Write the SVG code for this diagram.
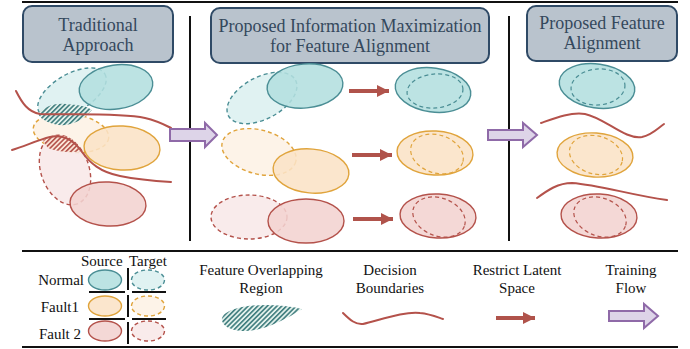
<svg xmlns="http://www.w3.org/2000/svg" width="690" height="349" viewBox="0 0 690 349">
  <defs>
    <style>
      .rule { stroke: #111; stroke-width: 2; fill: none; }
      .title-box { fill: #b9c3cd; stroke: #2f4a66; stroke-width: 2; }
      .title { font-size: 18px; fill: #34485c; text-anchor: middle; }
      .label { font-size: 15px; fill: #111; }
      .mid { text-anchor: middle; }
      .end { text-anchor: end; }
      .n-src { fill: #b3dfdf; fill-opacity: 0.88; stroke: #4b8e95; stroke-width: 1.4; }
      .n-tgt { fill: #daf0f0; fill-opacity: 0.85; stroke: #4b8e95; stroke-width: 1.4; stroke-dasharray: 4 3; }
      .f1-src { fill: #fbe2c6; fill-opacity: 0.88; stroke: #e0a43c; stroke-width: 1.4; }
      .f1-tgt { fill: #fdf1e4; fill-opacity: 0.85; stroke: #e0a43c; stroke-width: 1.4; stroke-dasharray: 4 3; }
      .f2-src { fill: #f2d3d0; fill-opacity: 0.88; stroke: #b4524b; stroke-width: 1.4; }
      .f2-tgt { fill: #f8e8e7; fill-opacity: 0.85; stroke: #b4524b; stroke-width: 1.4; stroke-dasharray: 4 3; }
      .inner-n { fill: none; stroke: #4b8e95; stroke-width: 1.2; stroke-dasharray: 4 3; }
      .inner-f1 { fill: none; stroke: #e0a43c; stroke-width: 1.2; stroke-dasharray: 4 3; }
      .inner-f2 { fill: none; stroke: #b4524b; stroke-width: 1.2; stroke-dasharray: 4 3; }
      .boundary { fill: none; stroke: #b4524b; stroke-width: 2; stroke-linecap: round; }
      .restrict { stroke: #b0534b; stroke-width: 4; fill: none; marker-end: url(#head); }
      .flow { fill: #ddd4e8; stroke: #8f6aa8; stroke-width: 2; stroke-linejoin: miter; }
    </style>
    <marker id="head" markerUnits="userSpaceOnUse" markerWidth="13" markerHeight="13" refX="12" refY="6.5" orient="auto">
      <path d="M0,0.5 L12,6.5 L0,12.5 Z" fill="#b0534b"/>
    </marker>
    <pattern id="hatch-teal" patternUnits="userSpaceOnUse" width="3.4" height="3.4" patternTransform="rotate(45)">
      <rect width="3.4" height="3.4" fill="#e3f1ec"/>
      <rect width="1.6" height="3.4" fill="#3f7d7e"/>
    </pattern>
    <pattern id="hatch-red" patternUnits="userSpaceOnUse" width="3.4" height="3.4" patternTransform="rotate(45)">
      <rect width="3.4" height="3.4" fill="#fbe6d8"/>
      <rect width="1.6" height="3.4" fill="#b4524b"/>
    </pattern>
  </defs>

  <!-- frame rules -->
  <g id="frame">
    <line class="rule" x1="22" y1="2" x2="678" y2="2"/>
    <line class="rule" x1="22" y1="251" x2="678" y2="251"/>
    <line class="rule" x1="22" y1="347" x2="678" y2="347"/>
    <line class="rule" x1="190" y1="16" x2="190" y2="241"/>
    <line class="rule" x1="509" y1="16" x2="509" y2="241"/>
  </g>

  <g font-family="Liberation Serif, DejaVu Serif, serif">
  <!-- panel titles -->
  <g id="title-traditional">
    <rect class="title-box" x="23" y="6" width="150" height="56" rx="9"/>
    <text class="title" x="98" y="31">Traditional</text>
    <text class="title" x="98" y="51">Approach</text>
  </g>
  <g id="title-infomax">
    <rect class="title-box" x="211" y="8" width="278" height="55" rx="9"/>
    <text class="title" x="350" y="32">Proposed Information Maximization</text>
    <text class="title" x="350" y="52">for Feature Alignment</text>
  </g>
  <g id="title-proposed">
    <rect class="title-box" x="527" y="6" width="150" height="55" rx="9"/>
    <text class="title" x="602" y="29">Proposed Feature</text>
    <text class="title" x="602" y="49">Alignment</text>
  </g>
  </g>

  <!-- traditional approach: overlapping source / target clusters -->
  <g id="traditional">
    <ellipse class="n-tgt" cx="72" cy="93" rx="38" ry="19" transform="rotate(-30 72 93)"/>
    <ellipse class="f1-tgt" cx="71" cy="133" rx="38" ry="19" transform="rotate(8 71 133)"/>
    <ellipse class="f2-tgt" cx="65" cy="170" rx="36" ry="24" transform="rotate(70 65 170)"/>
    <ellipse class="n-src" cx="116" cy="87" rx="37" ry="22" transform="rotate(-8 116 87)"/>
    <ellipse class="f1-src" cx="122" cy="148" rx="38" ry="22" transform="rotate(3 122 148)"/>
    <ellipse class="f2-src" cx="108" cy="204" rx="38" ry="22" transform="rotate(3 108 204)"/>
    <path d="M38,114 C44,106 56,103 66,104 C78,105 87,106 92,110 C86,117 78,123 66,125 C54,126 42,121 38,114 Z" fill="url(#hatch-teal)"/>
    <path d="M43,141 C48,135 62,134 70,138 C75,141 79,146 81,151 C72,153 58,152 48,148 Z" fill="url(#hatch-red)"/>
  </g>

  <!-- information maximization: per-class alignment -->
  <g id="infomax-normal">
    <ellipse class="n-tgt" cx="262" cy="98" rx="38" ry="21" transform="rotate(-28 262 98)"/>
    <ellipse class="n-src" cx="305" cy="86" rx="38" ry="22" transform="rotate(-5 305 86)"/>
  </g>
  <g id="infomax-fault1">
    <ellipse class="f1-tgt" cx="259" cy="152" rx="38" ry="22" transform="rotate(15 259 152)"/>
    <ellipse class="f1-src" cx="311" cy="171" rx="38" ry="22" transform="rotate(5 311 171)"/>
  </g>
  <g id="infomax-fault2">
    <ellipse class="f2-tgt" cx="249" cy="217" rx="38" ry="22"/>
    <ellipse class="f2-src" cx="306" cy="221" rx="38" ry="22"/>
  </g>
  <g id="aligned-normal">
    <ellipse class="n-src" cx="433" cy="90" rx="38" ry="22" transform="rotate(8 433 90)"/>
    <ellipse class="inner-n" cx="435" cy="91" rx="28" ry="17" transform="rotate(-5 435 91)"/>
  </g>
  <g id="aligned-fault1">
    <ellipse class="f1-src" cx="435" cy="153" rx="38" ry="22" transform="rotate(3 435 153)"/>
    <ellipse class="inner-f1" cx="437" cy="154" rx="27" ry="19" transform="rotate(18 437 154)"/>
  </g>
  <g id="aligned-fault2">
    <ellipse class="f2-src" cx="438" cy="216" rx="38" ry="22" transform="rotate(3 438 216)"/>
    <ellipse class="inner-f2" cx="439" cy="217" rx="27" ry="19" transform="rotate(20 439 217)"/>
  </g>

  <!-- proposed feature alignment -->
  <g id="proposed-normal">
    <ellipse class="n-src" cx="597" cy="86" rx="38" ry="22" transform="rotate(8 597 86)"/>
    <ellipse class="inner-n" cx="598" cy="87" rx="27" ry="18" transform="rotate(-5 598 87)"/>
  </g>
  <g id="proposed-fault1">
    <ellipse class="f1-src" cx="595" cy="155" rx="38" ry="22" transform="rotate(4 595 155)"/>
    <ellipse class="inner-f1" cx="596" cy="155" rx="27" ry="19" transform="rotate(15 596 155)"/>
  </g>
  <g id="proposed-fault2">
    <ellipse class="f2-src" cx="599" cy="216" rx="38" ry="22" transform="rotate(3 599 216)"/>
    <ellipse class="inner-f2" cx="600" cy="217" rx="27" ry="19" transform="rotate(20 600 217)"/>
  </g>

  <!-- boundaries, restriction arrows and training flow -->
  <g id="connectors">
    <path class="boundary" d="M16,91 C22,103 28,112 40,114 C80,115 120,113 145,118 C158,121 165,125 171,128"/>
    <path class="boundary" d="M12,150 C25,146 38,140 50,137 C65,134 75,142 82,152 C90,163 100,172 120,176 C140,180 155,181 171,182"/>
    <path class="boundary" d="M541,123 C555,118 570,112 585,114 C605,118 625,140 642,137 C652,135 658,128 664,124"/>
    <path class="boundary" d="M537,198 C548,190 558,183 572,183 C600,185 630,195 667,200"/>

    <line class="restrict" x1="349" y1="91" x2="389" y2="91"/>
    <line class="restrict" x1="352" y1="155" x2="392" y2="155"/>
    <line class="restrict" x1="353" y1="219" x2="393" y2="219"/>

    <polygon class="flow" points="170,129 205,129 205,123 217,135 205,147 205,141 170,141"/>
    <polygon class="flow" points="488,130 523,130 523,123 537,135 523,147 523,140 488,140"/>
  </g>

  <!-- legend -->
  <g font-family="Liberation Serif, DejaVu Serif, serif">
  <g id="legend-classes">
    <text class="label" x="81" y="266">Source</text>
    <text class="label" x="129" y="266">Target</text>
    <text class="label end" x="84" y="285">Normal</text>
    <text class="label end" x="79" y="312">Fault1</text>
    <text class="label end" x="81" y="339">Fault 2</text>
    <ellipse class="n-src" cx="105" cy="280" rx="16.5" ry="10"/>
    <ellipse class="n-tgt" cx="148" cy="280" rx="16.5" ry="10"/>
    <ellipse class="f1-src" cx="105" cy="306" rx="16.5" ry="10"/>
    <ellipse class="f1-tgt" cx="148" cy="306" rx="16.5" ry="10"/>
    <ellipse class="f2-src" cx="105" cy="331" rx="16.5" ry="10"/>
    <ellipse class="f2-tgt" cx="148" cy="331" rx="16.5" ry="10"/>
    <line class="rule" x1="128" y1="268" x2="128" y2="290"/>
    <line class="rule" x1="128" y1="295" x2="128" y2="317"/>
    <line class="rule" x1="128" y1="322" x2="128" y2="344"/>
    <line class="rule" x1="89" y1="292" x2="125" y2="292"/>
    <line class="rule" x1="132" y1="292" x2="166" y2="292"/>
    <line class="rule" x1="89" y1="319" x2="125" y2="319"/>
    <line class="rule" x1="132" y1="319" x2="166" y2="319"/>
  </g>
  <g id="legend-overlap">
    <text class="label mid" x="261" y="275">Feature Overlapping</text>
    <text class="label mid" x="261" y="293">Region</text>
    <path d="M222,318 C226,305 270,301 302,309 C285,320 262,332 242,331 C229,330 221,325 222,318 Z" fill="url(#hatch-teal)"/>
  </g>
  <g id="legend-boundary">
    <text class="label mid" x="390" y="275">Decision</text>
    <text class="label mid" x="390" y="293">Boundaries</text>
    <path class="boundary" d="M343,313 C350,320 356,325 363,324 C380,320 405,311 420,313 C430,314 437,317 443,319"/>
  </g>
  <g id="legend-restrict">
    <text class="label mid" x="517" y="275">Restrict Latent</text>
    <text class="label mid" x="517" y="293">Space</text>
    <line class="restrict" x1="496" y1="318" x2="535" y2="318"/>
  </g>
  <g id="legend-flow">
    <text class="label mid" x="631" y="275">Training</text>
    <text class="label mid" x="631" y="293">Flow</text>
    <polygon class="flow" points="609,311 644,311 644,304 658,316 644,328 644,321 609,321"/>
  </g>
  </g>
</svg>
